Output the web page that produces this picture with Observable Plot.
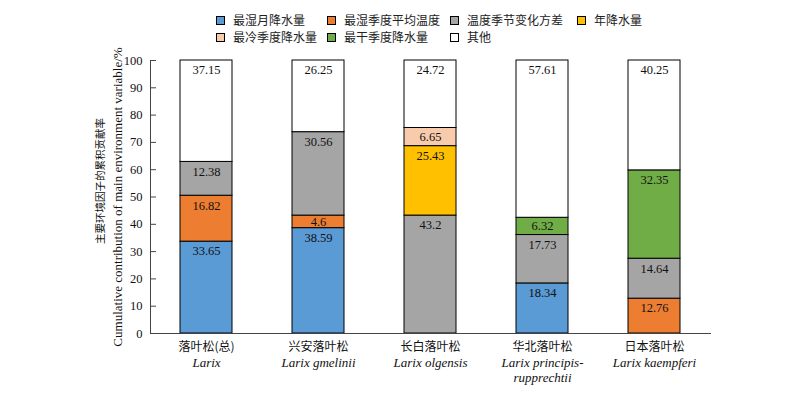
<!DOCTYPE html>
<html><head><meta charset="utf-8">
<script src="https://cdn.jsdelivr.net/npm/d3@7"></script>
<script src="https://cdn.jsdelivr.net/npm/@observablehq/plot@0.6"></script>
<style>
body{margin:0;background:#fff;width:800px;height:395px;overflow:hidden;}
#legend{display:grid;grid-template-columns:111px 123px 127px auto;margin-left:216px;padding-top:12px;height:45px;box-sizing:border-box;font-family:"Noto Sans CJK SC",sans-serif;font-size:12px;line-height:15px;color:#222;}
#legend span.sw{display:inline-block;width:7px;height:7px;border:1px solid #000;margin-right:8px;vertical-align:0px;}
</style></head><body>
<div id="legend"></div>
<div id="chart"></div>
<script>
const species = ["落叶松(总)", "兴安落叶松", "长白落叶松", "华北落叶松", "日本落叶松"];
const latin = ["Larix", "Larix gmelinii", "Larix olgensis", "Larix principis-\nrupprechtii", "Larix kaempferi"];
const variables = ["最湿月降水量", "最湿季度平均温度", "温度季节变化方差", "年降水量", "最冷季度降水量", "最干季度降水量", "其他"];
const colors = ["#5B9BD5", "#ED7D31", "#A5A5A5", "#FFC000", "#F8CBAD", "#70AD47", "#FFFFFF"];
const wettestMonthPrec = [33.65, 38.59, 0, 18.34, 0];
const wettestQuarterTemp = [16.82, 4.6, 0, 0, 12.76];
const tempSeasonality = [12.38, 30.56, 43.2, 17.73, 14.64];
const annualPrec = [0, 0, 25.43, 0, 0];
const coldestQuarterPrec = [0, 0, 6.65, 0, 0];
const driestQuarterPrec = [0, 0, 0, 6.32, 32.35];
const others = [37.15, 26.25, 24.72, 57.61, 40.25];
const yTicks = [0, 10, 20, 30, 40, 50, 60, 70, 80, 90, 100];

const series = [wettestMonthPrec, wettestQuarterTemp, tempSeasonality, annualPrec, coldestQuarterPrec, driestQuarterPrec, others];
const rows = [];
species.forEach((s, i) => {
  let cum = 0;
  series.forEach((arr, k) => {
    const v = arr[i];
    if (v > 0) {
      const top = cum + v;
      rows.push({species: s, variable: variables[k], value: v, labelY: top - Math.min(v / 2, 3.6)});
      cum = top;
    }
  });
});
const spRows = species.map((s, i) => ({cn: s, la: latin[i]}));

// legend
const lg = document.getElementById("legend");
variables.forEach((name, k) => {
  const d = document.createElement("div");
  d.style.whiteSpace = "nowrap";
  d.innerHTML = `<span class="sw" style="background:${colors[k]}"></span>${name}`;
  lg.appendChild(d);
});

const chart = Plot.plot({
  width: 800,
  height: 350,
  marginLeft: 150,
  marginRight: 90,
  marginTop: 15,
  marginBottom: 62,
  style: {fontFamily: "'Liberation Serif', serif", fontSize: "12.5px", color: "#111", background: "#fff"},
  x: {domain: species, paddingInner: 0.54, paddingOuter: 0.27, axis: null},
  y: {domain: [0, 100], axis: null},
  color: {domain: variables, range: colors},
  marks: [
    Plot.barY(rows, {x: "species", y: "value", fill: "variable", stroke: "#000", strokeWidth: 1}),
    Plot.text(rows, {x: "species", y: "labelY", text: d => String(d.value), lineAnchor: "middle", fill: "#111", fontSize: 12.5}),
    Plot.axisY({ticks: yTicks, tickSize: 0, tickPadding: 8, label: null, fontSize: 12.5, fontFamily: "'Liberation Serif', serif"}),
    Plot.ruleY(yTicks, {y: d => d, insetRight: 554, stroke: "#444"}),
    Plot.frame({anchor: "left", stroke: "#444"}),
    Plot.frame({anchor: "bottom", stroke: "#444"}),
    Plot.text(spRows, {x: "cn", text: "cn", frameAnchor: "bottom", dy: 14, lineAnchor: "middle", fontFamily: "'Noto Sans CJK SC', sans-serif", fontSize: 12, fill: "#111"}),
    Plot.text(spRows, {x: "cn", text: "la", frameAnchor: "bottom", dy: 23, lineAnchor: "top", lineHeight: 1.15, fontStyle: "italic", fontSize: 13, fill: "#111"}),
    Plot.text(["主要环境因子的累积贡献率"], {text: d => d, frameAnchor: "left", rotate: -90, textAnchor: "middle", dx: -50, dy: -16, fontFamily: "'Noto Sans CJK SC', sans-serif", fontSize: 10.5, fill: "#111"}),
    Plot.text(["Cumulative contribution of main environment variable/%"], {text: d => d, frameAnchor: "left", rotate: -90, textAnchor: "middle", dx: -33, dy: 0, fontSize: 13, fill: "#111"})
  ]
});
document.getElementById("chart").appendChild(chart);
</script>
</body></html>
